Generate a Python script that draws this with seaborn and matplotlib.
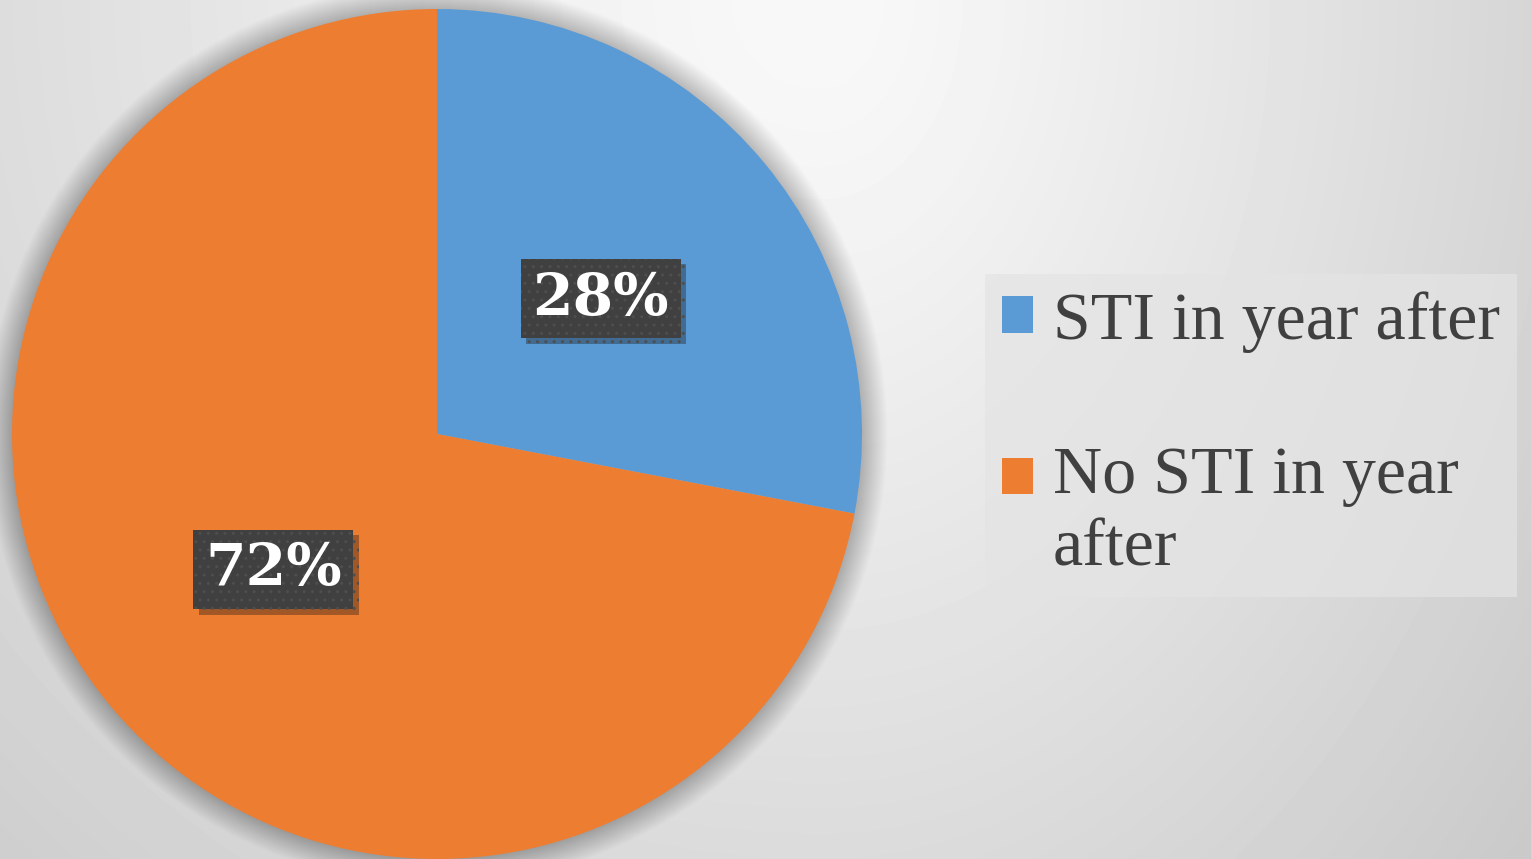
import numpy as np
import seaborn as sns
import matplotlib.pyplot as plt
import matplotlib.patheffects as pe
from matplotlib.patches import Circle

categories = ['STI in year after', 'No STI in year\nafter']
shares = [28, 72]
colors = ['#5B9BD5', '#ED7D31']

sns.set_theme(style='white')
plt.rcParams['font.family'] = ['Liberation Serif', 'DejaVu Serif']

W, H = 1531, 859
fig = plt.figure(figsize=(W / 100, H / 100), dpi=100)

# background gradient, lightest near the top middle
bg = fig.add_axes([0, 0, 1, 1])
yy, xx = np.mgrid[0:H, 0:W]
dx = xx - 820.0
dx = np.where(dx > 0, dx * 1.4, dx)
dist = np.sqrt(dx ** 2 + yy ** 2 + 150 ** 2)
shade = np.clip(254 - 0.04 * dist, 0, 255) / 255.0
bg.imshow(shade, cmap='gray', vmin=0, vmax=1, aspect='auto', interpolation='bilinear')
bg.set_axis_off()

ax = fig.add_axes([12 / W, 0, 850 / W, 850 / H])

# soft shadow around the pie
for i in range(30):
    ax.add_patch(Circle((0, 0), 1 + 0.002 * (i + 1), color='black', alpha=0.009,
                        lw=0, clip_on=False, zorder=0))

wedges, _, autotexts = ax.pie(shares, colors=colors, startangle=90, counterclock=False,
                              autopct='%d%%', pctdistance=0.5, radius=1,
                              wedgeprops=dict(linewidth=0),
                              textprops=dict(color='white', fontsize=42, fontweight='bold',
                                             family='DejaVu Serif'))
ax.set_xlim(-1, 1)
ax.set_ylim(-1, 1)
ax.set_aspect('equal')
ax.set_axis_off()
for w in wedges:
    w.set_clip_on(False)
    w.set_zorder(2)
for t in autotexts:
    t.set_bbox(dict(boxstyle='square,pad=0.2', facecolor='#404040', edgecolor='#4e4e4e',
                    linewidth=0, hatch='..'))
    t.get_bbox_patch().set_path_effects([pe.withSimplePatchShadow(offset=(4, -4), alpha=0.35),
                                         pe.Normal()])
    t.set_zorder(5)

leg = fig.legend(wedges, categories, loc='upper left',
                 bbox_to_anchor=(985 / W, 1 - 274 / H), fontsize=49,
                 frameon=True, fancybox=False, handlelength=0.45, handleheight=0.45,
                 handletextpad=0.3, labelspacing=1.37, borderpad=0.25, borderaxespad=0)
frame = leg.get_frame()
frame.set_facecolor('#e4e4e4')
frame.set_alpha(0.7)
frame.set_linewidth(0)
for t in leg.get_texts():
    t.set_color('#404040')
    t.set_linespacing(1.25)
# align the marker of the wrapped entry with its first line
h2 = leg.legend_handles[1]
h2.set_y(h2.get_y() + 26)

fig.savefig('out.png', dpi=100)
